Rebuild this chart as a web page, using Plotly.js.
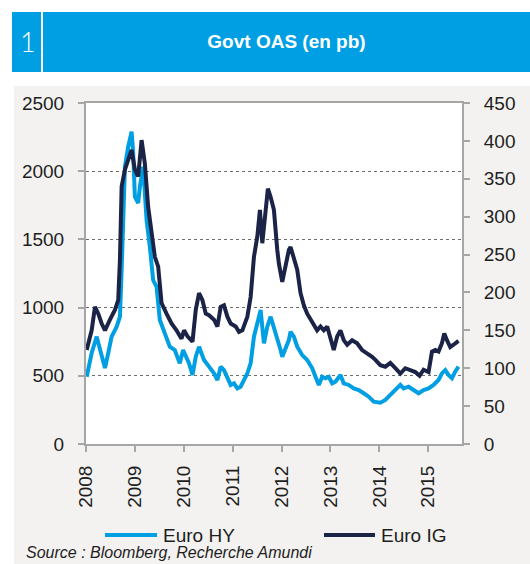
<!DOCTYPE html>
<html>
<head>
<meta charset="utf-8">
<script src="https://cdn.plot.ly/plotly-3.0.1.min.js"></script>
<style>
  html, body { margin: 0; padding: 0; background: #ffffff; width: 530px; height: 564px; overflow: hidden; font-family: "Liberation Sans", Arial, sans-serif; }
  #header { position: absolute; left: 12px; top: 12px; width: 518px; height: 60px; background: #009fe3; }
  #num { position: absolute; left: 8px; top: 0; height: 60px; line-height: 60px; color: #ffffff; font-size: 27px; font-weight: 300; font-family: Lato, "Open Sans", "Liberation Sans", sans-serif; }
  #sep { position: absolute; left: 29px; top: 0; width: 2px; height: 60px; background: #ffffff; }
  #title { position: absolute; left: 31px; right: 0; top: 0; height: 60px; line-height: 60px; text-align: center; color: #ffffff; font-size: 19px; font-weight: bold; }
  #chart { position: absolute; left: 14px; top: 86px; width: 516px; height: 478px; }
</style>
</head>
<body>
<div id="header"><div id="num">1</div><div id="sep"></div><div id="title">Govt OAS (en pb)</div></div>
<div id="chart"></div>
<script>
// Euro HY (left axis) — decimal year / spread in bp
const hyYears = [2008.014,2008.116,2008.218,2008.286,2008.388,2008.455,2008.524,2008.627,2008.694,2008.729,2008.761,2008.796,2008.863,2008.933,2008.965,2009.000,2009.067,2009.102,2009.169,2009.239,2009.306,2009.373,2009.443,2009.510,2009.612,2009.714,2009.816,2009.918,2009.986,2010.108,2010.178,2010.245,2010.312,2010.414,2010.516,2010.618,2010.688,2010.755,2010.822,2010.892,2010.959,2011.027,2011.096,2011.163,2011.231,2011.300,2011.367,2011.435,2011.504,2011.571,2011.639,2011.708,2011.776,2011.843,2011.912,2011.980,2012.014,2012.082,2012.149,2012.184,2012.251,2012.320,2012.422,2012.524,2012.627,2012.694,2012.761,2012.831,2012.898,2012.965,2013.035,2013.102,2013.204,2013.271,2013.373,2013.476,2013.578,2013.680,2013.782,2013.884,2014.020,2014.122,2014.224,2014.327,2014.429,2014.496,2014.598,2014.700,2014.802,2014.904,2015.006,2015.108,2015.210,2015.280,2015.347,2015.414,2015.484,2015.551,2015.618];
const hyValues = [493,667,787,689,557,667,787,860,933,1276,1767,2033,2180,2290,2133,1813,1767,1886,2033,1642,1446,1202,1153,909,811,713,689,591,689,591,506,640,713,616,567,518,469,567,542,482,433,445,408,420,469,518,591,787,885,982,738,860,933,860,762,689,640,713,762,823,787,713,652,616,555,493,433,493,482,493,445,457,506,445,433,408,396,372,347,310,303,323,359,396,433,408,420,396,372,396,408,433,469,518,542,506,482,530,567];

// Euro IG (right axis)
const igYears = [2008.014,2008.116,2008.184,2008.251,2008.320,2008.388,2008.490,2008.592,2008.659,2008.694,2008.729,2008.796,2008.863,2008.933,2009.000,2009.067,2009.137,2009.204,2009.271,2009.341,2009.408,2009.476,2009.545,2009.647,2009.749,2009.851,2009.953,2010.006,2010.076,2010.178,2010.245,2010.312,2010.380,2010.449,2010.516,2010.618,2010.688,2010.755,2010.822,2010.892,2010.959,2011.061,2011.129,2011.198,2011.300,2011.367,2011.435,2011.504,2011.557,2011.606,2011.673,2011.720,2011.776,2011.843,2011.912,2011.945,2012.014,2012.082,2012.149,2012.184,2012.251,2012.320,2012.388,2012.455,2012.524,2012.592,2012.659,2012.727,2012.796,2012.863,2012.933,2013.000,2013.067,2013.137,2013.204,2013.271,2013.341,2013.443,2013.545,2013.647,2013.749,2013.851,2013.918,2014.020,2014.122,2014.224,2014.327,2014.429,2014.531,2014.633,2014.735,2014.822,2014.904,2015.006,2015.076,2015.143,2015.210,2015.280,2015.327,2015.382,2015.449,2015.518,2015.618];
const igValues = [124,150,181,172,159,150,164,177,190,243,340,362,375,388,362,353,401,370,313,274,247,234,186,172,159,150,139,150,142,135,177,199,190,172,170,164,155,181,183,168,159,155,148,150,168,194,247,274,309,265,304,337,326,309,256,238,214,238,256,260,247,230,199,183,172,164,157,150,155,150,155,137,124,142,150,137,131,137,133,124,120,115,111,104,102,107,100,93,100,98,95,90,98,95,122,124,122,133,146,137,128,131,136];

const yearTicks = [2008,2009,2010,2011,2012,2013,2014,2015];
const leftTicks = [0,500,1000,1500,2000,2500];
const rightTicks = [0,50,100,150,200,250,300,350,400,450];
const seriesNames = ["Euro HY","Euro IG"];
const seriesColors = ["#009fe3","#1b2346"];
const sourceText = "Source : Bloomberg, Recherche Amundi";

const fontFam = '"Liberation Sans", Arial, sans-serif';
const textColor = "#1e1e1e";
const axisGrey = "#a6a6a6";

const traces = [
  { x: hyYears, y: hyValues, name: seriesNames[0], type: "scatter", mode: "lines",
    line: { color: seriesColors[0], width: 4, shape: "linear" }, yaxis: "y", showlegend: false },
  { x: igYears, y: igValues, name: seriesNames[1], type: "scatter", mode: "lines",
    line: { color: seriesColors[1], width: 4, shape: "linear" }, yaxis: "y2", showlegend: false }
];

// legend rows in paper coords
const legY = -0.267;
const legend = [
  { x0: 0.0505, x1: 0.189, tx: 0.1995 },
  { x0: 0.633, x1: 0.7686, tx: 0.779 }
];
const shapes = legend.map((l, i) => ({
  type: "line", xref: "paper", yref: "paper", x0: l.x0, x1: l.x1, y0: legY, y1: legY,
  line: { color: seriesColors[i], width: 4 }
}));
const annotations = legend.map((l, i) => ({
  xref: "paper", yref: "paper", x: l.tx, y: legY, xanchor: "left", yanchor: "middle",
  text: seriesNames[i], showarrow: false, font: { family: fontFam, size: 19, color: textColor }
}));
annotations.push({
  xref: "paper", yref: "paper", x: -0.165, y: -0.318, xanchor: "left", yanchor: "middle",
  text: "<i>" + sourceText + "</i>", showarrow: false, font: { family: fontFam, size: 16, color: textColor }
});

const layout = {
  width: 516, height: 478,
  margin: { l: 72, r: 68, t: 17, b: 120, pad: 0 },
  paper_bgcolor: "#f3f2f0",
  plot_bgcolor: "#ffffff",
  font: { family: fontFam, size: 19, color: textColor },
  showlegend: false,
  xaxis: {
    range: [2008, 2015.69], tickmode: "array", tickvals: yearTicks, ticktext: yearTicks.map(String),
    tickangle: -90, ticks: "outside", ticklen: 6, tickwidth: 2, tickcolor: axisGrey,
    showline: true, linecolor: axisGrey, linewidth: 2, mirror: true,
    showgrid: false, zeroline: false, ticklabelstandoff: 6,
    tickfont: { family: fontFam, size: 19, color: textColor }
  },
  yaxis: {
    range: [0, 2500], tickmode: "array", tickvals: leftTicks,
    ticks: "outside", ticklen: 6, tickwidth: 2, tickcolor: axisGrey,
    showline: true, linecolor: axisGrey, linewidth: 2,
    showgrid: true, gridcolor: "#6e6e6e", gridwidth: 1, griddash: "dot",
    zeroline: false, ticklabelstandoff: 10,
    tickfont: { family: fontFam, size: 19, color: textColor }
  },
  yaxis2: {
    range: [0, 450], tickmode: "array", tickvals: rightTicks, overlaying: "y", side: "right",
    ticks: "outside", ticklen: 6, tickwidth: 2, tickcolor: axisGrey,
    showline: true, linecolor: axisGrey, linewidth: 2,
    showgrid: false, zeroline: false, ticklabelstandoff: 10,
    tickfont: { family: fontFam, size: 19, color: textColor }
  },
  shapes: shapes,
  annotations: annotations
};

Plotly.newPlot("chart", traces, layout, { staticPlot: true, displayModeBar: false });
</script>
</body>
</html>
